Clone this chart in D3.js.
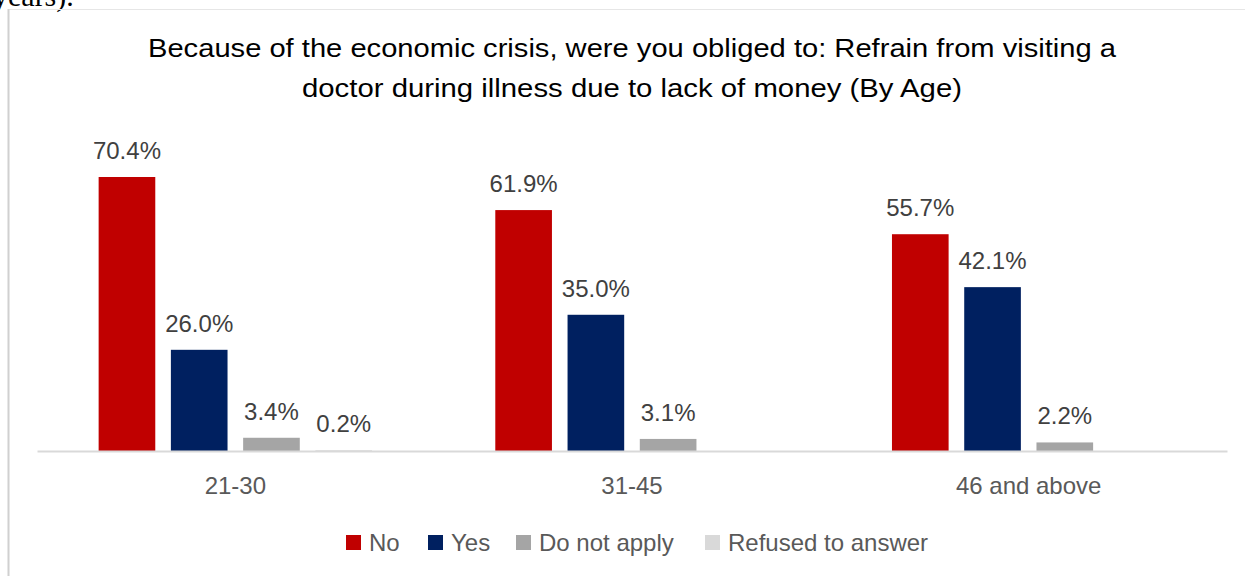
<!DOCTYPE html>
<html><head><meta charset="utf-8">
<script src="https://cdn.jsdelivr.net/npm/d3@7"></script>
<style>body{margin:0;background:#fff;} svg{display:block;}</style>
</head><body>
<svg id="c" width="1245" height="576"></svg>
<script>
const categories = ["21-30", "31-45", "46 and above"];
const series = ["No", "Yes", "Do not apply", "Refused to answer"];
const valuesNo = [70.4, 61.9, 55.7];
const valuesYes = [26.0, 35.0, 42.1];
const valuesNA = [3.4, 3.1, 2.2];
const valuesRefused = [0.2, null, null];
const colors = ["#C00000", "#002060", "#A5A5A5", "#D9D9D9"];
const titleLines = ["Because of the economic crisis, were you obliged to: Refrain from visiting a",
                    "doctor during illness due to lack of money (By Age)"];

const allVals = [valuesNo, valuesYes, valuesNA, valuesRefused];
const svg = d3.select("#c");
const font = "Liberation Sans, Arial, sans-serif";

// page fragment and frame
svg.append("text").attr("x", -7).attr("y", 6).attr("font-family", "Liberation Serif, serif")
  .attr("font-size", 30).attr("fill", "#000").text("years).");
svg.append("line").attr("x1", 8).attr("x2", 1245).attr("y1", 9.5).attr("y2", 9.5).attr("stroke", "#e6e6e6");
svg.append("line").attr("x1", 8.5).attr("x2", 8.5).attr("y1", 9).attr("y2", 576).attr("stroke", "#d0d0d0").attr("stroke-width", 2);

const baseline = 451;
const y = d3.scaleLinear().domain([0, 70.4]).range([baseline, 177]);
const x0 = d3.scaleBand().domain(categories).range([37, 1227]).padding(0);
const x1 = d3.scaleBand().domain(series).range([0, x0.bandwidth()]).paddingInner(0.216).paddingOuter(0.853);

// title
svg.append("g").selectAll("text").data(titleLines).join("text")
  .attr("x", 632).attr("y", (d, i) => 57 + i * 40)
  .attr("text-anchor", "middle").attr("font-family", font).attr("font-size", 25.5)
  .attr("fill", "#000")
  .attr("textLength", (d, i) => i === 0 ? 968 : 660).attr("lengthAdjust", "spacingAndGlyphs")
  .text(d => d);

// bars
const data = [];
categories.forEach((c, ci) => series.forEach((s, si) => {
  const v = allVals[si][ci];
  if (v !== null && v !== undefined) data.push({c, s, si, v});
}));
const g = svg.append("g");
g.selectAll("rect").data(data).join("rect")
  .attr("x", d => x0(d.c) + x1(d.s)).attr("width", x1.bandwidth())
  .attr("y", d => y(d.v)).attr("height", d => baseline - y(d.v))
  .attr("fill", d => colors[d.si]);

// axis
const axis = svg.append("g").attr("transform", `translate(0,${baseline})`)
  .call(d3.axisBottom(x0).tickSize(0).tickPadding(26));
axis.select(".domain").attr("stroke", "#d9d9d9").attr("stroke-width", 2);
axis.selectAll("text").attr("font-family", font).attr("font-size", 24).attr("fill", "#595959");

// labels
g.selectAll("text.lab").data(data).join("text").attr("class", "lab")
  .attr("x", d => x0(d.c) + x1(d.s) + x1.bandwidth() / 2)
  .attr("y", d => y(d.v) - 18)
  .attr("text-anchor", "middle").attr("font-family", font).attr("font-size", 24).attr("fill", "#404040")
  .text(d => d.v.toFixed(1) + "%");

// legend
const legX = [346, 428, 516, 705];
const leg = svg.append("g").selectAll("g").data(series).join("g")
  .attr("transform", (d, i) => `translate(${legX[i]},535)`);
leg.append("rect").attr("width", 15).attr("height", 15).attr("fill", (d, i) => colors[i]);
leg.append("text").attr("x", 23).attr("y", 16).attr("font-family", font).attr("font-size", 24)
  .attr("fill", "#595959").text(d => d);
</script>
</body></html>
